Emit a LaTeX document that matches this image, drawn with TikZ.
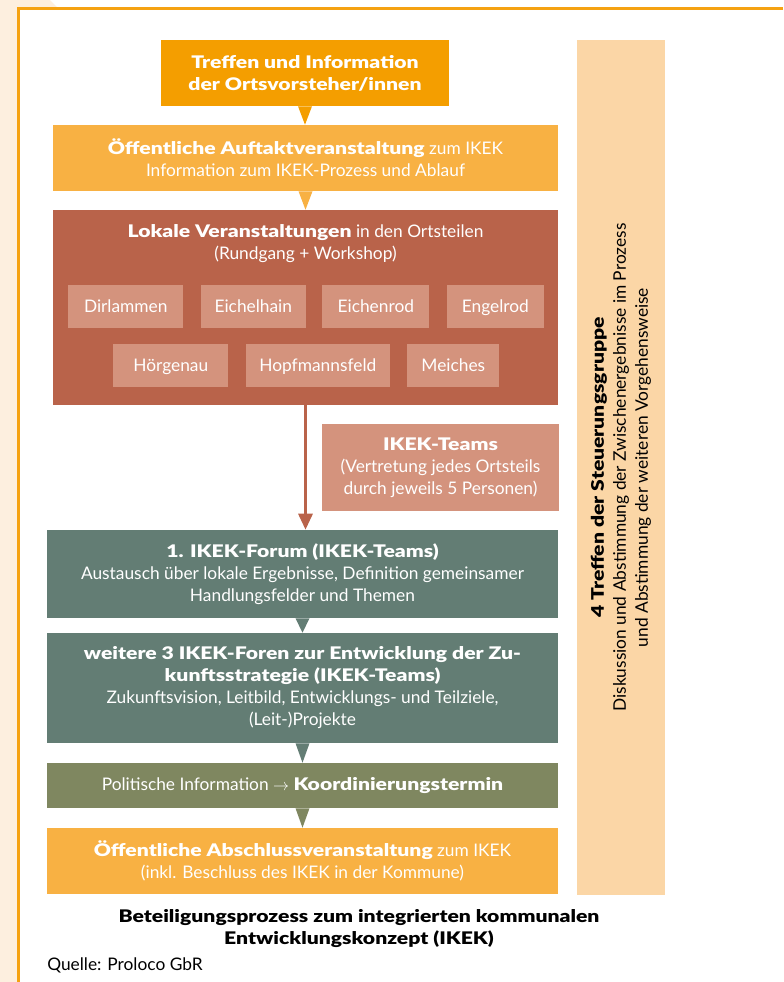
\documentclass[tikz,border=0pt]{standalone}
\usepackage{fontspec}
\setmainfont{Lato}[BoldFont={Lato Black}, BoldFeatures={FakeStretch=1.22}]
\usetikzlibrary{positioning,calc,arrows.meta}

\definecolor{dunkelorange}{HTML}{F49E00}
\definecolor{hellorange}{HTML}{F8B143}
\definecolor{ziegel}{HTML}{B9634A}
\definecolor{lachs}{HTML}{D4937D}
\definecolor{graugruen}{HTML}{637D74}
\definecolor{oliv}{HTML}{7F8760}
\definecolor{spalte}{HTML}{FBD6A6}
\definecolor{randbeige}{HTML}{FDEFDF}
\definecolor{rahmen}{HTML}{F5A212}

\tikzset{
  box/.style={rectangle, inner sep=0pt, align=center, text=white,
    font=\fontsize{13}{16.5}\selectfont},
  ort/.style={box, fill=lachs, minimum height=32.25pt, text height=11pt, text depth=1.5pt},
}

% pointer triangle below a box
\newcommand{\pointer}[3]{\fill[#3] ([xshift=-5.25pt]#1.south) -- ([xshift=5.25pt]#1.south) -- (#1.south |- #2.north) -- cycle;}

\begin{document}
\begin{tikzpicture}[x=0.75pt,y=-0.75pt]
\useasboundingbox (0,0) rectangle (783,982);

%frame
\fill[randbeige] (0,0) -- (50,0) -- (57,7) -- (18,7) -- (18,982) -- (0,982) -- cycle;
\draw[rahmen, line width=2.25pt] (783,8.3) -- (18.3,8.3) -- (18.3,982);

%boxes
\node[box, fill=dunkelorange, minimum width=216pt, minimum height=49.5pt] (treffen) at (305,73)
  {\bfseries Treffen und Information\\\bfseries der Ortsvorsteher/innen};
\node[box, fill=hellorange, minimum width=378.75pt, minimum height=49.5pt] (auftakt) at (305.5,158)
  {\textbf{Öffentliche Auftaktveranstaltung} zum IKEK\\Information zum IKEK-Prozess und Ablauf};
\node[box, fill=ziegel, minimum width=378.75pt, minimum height=146.25pt] (lokal) at (305.5,307.5) {};
\node[box] (lokaltitel) at (305.5,244)
  {\textbf{Lokale Veranstaltungen} in den Ortsteilen\\(Rundgang + Workshop)};

%ortsteile
\node[ort, anchor=west, minimum width=86.25pt] (dirlammen) at (68,306.5) {Dirlammen};
\node[ort, minimum width=78.75pt, right=12.75pt of dirlammen] (eichelhain) {Eichelhain};
\node[ort, minimum width=80.25pt, right=12pt of eichelhain] (eichenrod) {Eichenrod};
\node[ort, minimum width=72.75pt, right=12.75pt of eichenrod] (engelrod) {Engelrod};
\node[ort, anchor=west, minimum width=86.25pt] (hoergenau) at (113,365) {Hörgenau};
\node[ort, minimum width=108pt, right=12.75pt of hoergenau] (hopfmannsfeld) {Hopfmannsfeld};
\node[ort, minimum width=69pt, right=12.75pt of hopfmannsfeld] (meiches) {Meiches};

\node[box, fill=lachs, minimum width=177.75pt, minimum height=65.25pt] (teams) at (440.5,467.5)
  {\textbf{IKEK-Teams}\\(Vertretung jedes Ortsteils\\durch jeweils 5 Personen)};
\node[box, fill=graugruen, minimum width=383.25pt, minimum height=66pt] (forum) at (302.5,574)
  {\textbf{1. IKEK-Forum (IKEK-Teams)}\\Austausch über lokale Ergebnisse, Definition gemeinsamer\\Handlungsfelder und Themen};
\node[box, fill=graugruen, minimum width=383.25pt, minimum height=82.5pt] (foren) at (302.5,688)
  {\textbf{weitere 3 IKEK-Foren zur Entwicklung der Zu-}\\\textbf{kunftsstrategie (IKEK-Teams)}\\Zukunftsvision, Leitbild, Entwicklungs- und Teilziele,\\(Leit-)Projekte};
\node[box, fill=oliv, minimum width=383.25pt, minimum height=33.75pt] (politik) at (302.5,785.5)
  {Politische Information $\rightarrow$ \textbf{Koordinierungstermin}};
\node[box, fill=hellorange, minimum width=383.25pt, minimum height=49.5pt] (abschluss) at (302.5,861)
  {\textbf{Öffentliche Abschlussveranstaltung} zum IKEK\\(inkl. Beschluss des IKEK in der Kommune)};

\node[box, fill=spalte, minimum width=66pt, minimum height=641.25pt] (steuer) at (621,467.5) {};
\node[box, text=black, rotate=90] (steuertext) at (steuer.center)
  {\textbf{4 Treffen der Steuerungsgruppe}\\Diskussion und Abstimmung der Zwischenergebnisse im Prozess\\und Abstimmung der weiteren Vorgehensweise};

%pointers
\pointer{treffen}{auftakt}{dunkelorange}
\pointer{auftakt}{lokal}{hellorange}
\pointer{forum}{foren}{graugruen}
\pointer{foren}{politik}{graugruen}
\pointer{politik}{abschluss}{oliv}
\draw[ziegel, line width=2.25pt, -{Triangle[width=10.5pt,length=12pt]}] (lokal.south) -- (lokal.south |- forum.north);

%caption
\node[box, text=black] (titel) at (359,928.5)
  {\textbf{Beteiligungsprozess zum integrierten kommunalen}\\\textbf{Entwicklungskonzept (IKEK)}};
\node[box, text=black, anchor=west] (quelle) at (47,965) {Quelle: Proloco GbR};
\end{tikzpicture}
\end{document}
